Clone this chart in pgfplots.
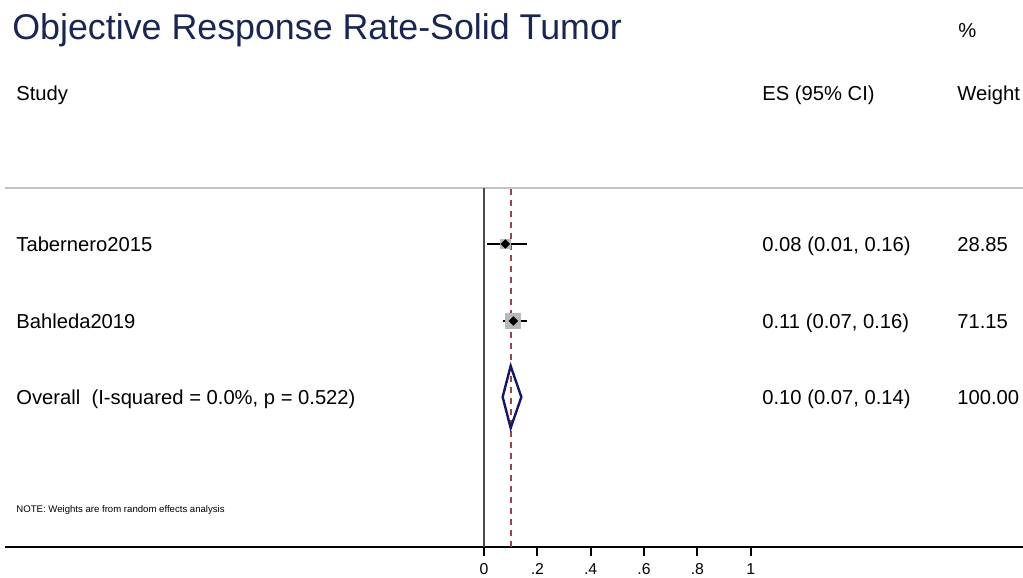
\documentclass[border=0pt]{standalone}
\usepackage{pgfplots}
\pgfplotsset{compat=1.18}
\usepackage{fontspec}
\setmainfont{Liberation Sans}
\definecolor{titlenavy}{RGB}{26,38,82}
\definecolor{dmaroon}{RGB}{150,68,80}
\definecolor{dnavy}{RGB}{22,22,100}
\definecolor{sqgray}{RGB}{185,185,185}
\definecolor{rulegray}{RGB}{195,195,195}
\begin{document}
\begin{tikzpicture}
\begin{axis}[
  scale only axis, width=511.5pt, height=289pt,
  xmin=-1.81477, xmax=2.02100, ymin=-31, ymax=547,
  axis x line*=middle, axis y line=none,
  x axis line style={draw=none},
  clip=false,
  /pgf/number format/assume math mode=true,
  xtick={0,0.2,0.4,0.6,0.8,1},
  xticklabels={{0},{.2},{.4},{.6},{.8},{1}},
  tick align=outside,
  major tick length=4.6pt,
  xtick style={draw=black, line width=0.9pt},
  xticklabel style={font=\fontsize{7.9}{9}\selectfont, inner sep=0pt, text height=5.7pt, text depth=0pt, anchor=north, yshift=-3.2pt},
  ytick=\empty,
]
% coordinate frame
\coordinate (BL) at (rel axis cs:0,0);
\coordinate (TR) at (rel axis cs:1,1);
% bottom axis line
\addplot[black, line width=0.8pt] coordinates {(-1.796,0) (2.021,0)};
% header rule
\addplot[rulegray, line width=1pt] coordinates {(-1.796,359) (2.021,359)};
% null line
\addplot[black!70, line width=0.8pt] coordinates {(0,0) (0,359)};
% overall effect dashed line
\addplot[dmaroon, line width=0.9pt, dash pattern=on 3pt off 2.5pt] coordinates {(0.10,0) (0.10,359)};
% weight squares
\addplot[only marks, mark=square*, mark size=2.4pt, sqgray, mark options={draw=sqgray, fill=sqgray}] coordinates {(0.08,303)};
\addplot[only marks, mark=square*, mark size=3.75pt, sqgray, mark options={draw=sqgray, fill=sqgray}] coordinates {(0.11,226)};
% CIs
\addplot[black, line width=1pt] coordinates {(0.01,303) (0.16,303)};
\addplot[black, line width=1pt] coordinates {(0.07,226) (0.16,226)};
% point estimates
\addplot[only marks, mark=square*, mark size=1.45pt, black, mark options={rotate=45}] coordinates {(0.08,303) (0.11,226)};
% overall diamond
\addplot[dnavy, line width=1.2pt] coordinates {(0.07,150) (0.10,181) (0.14,150) (0.10,119) (0.07,150)} -- cycle;
% texts
\node[anchor=base west, inner sep=0pt, text=titlenavy, font=\fontsize{17.9}{20}\selectfont] at (rel axis cs:{12/1023},{1-39.5/578}) {Objective Response Rate-Solid Tumor};
\begin{scope}[every node/.style={anchor=base west, inner sep=0pt, font=\fontsize{10.1}{12}\selectfont}]
\node at (rel axis cs:{958/1023},{1-38/578}) {\%};
\node at (rel axis cs:{16/1023},{1-101/578}) {Study};
\node at (rel axis cs:{762/1023},{1-101/578}) {ES (95\% CI)};
\node at (rel axis cs:{957/1023},{1-101/578}) {Weight};
\node at (rel axis cs:{16/1023},{1-252/578}) {Tabernero2015};
\node at (rel axis cs:{762/1023},{1-252/578}) {0.08 (0.01, 0.16)};
\node at (rel axis cs:{957/1023},{1-252/578}) {28.85};
\node at (rel axis cs:{16/1023},{1-328.5/578}) {Bahleda2019};
\node at (rel axis cs:{762/1023},{1-328.5/578}) {0.11 (0.07, 0.16)};
\node at (rel axis cs:{957/1023},{1-328.5/578}) {71.15};
\node at (rel axis cs:{16/1023},{1-404.5/578}) {Overall\ \ (I-squared = 0.0\%, p = 0.522)};
\node at (rel axis cs:{762/1023},{1-404.5/578}) {0.10 (0.07, 0.14)};
\node at (rel axis cs:{957/1023},{1-404.5/578}) {100.00};
\node[font=\fontsize{4.8}{6}\selectfont] at (rel axis cs:{16/1023},{1-512.5/578}) {NOTE: Weights are from random effects analysis};
\end{scope}
\end{axis}
\pgfresetboundingbox
\useasboundingbox (BL) rectangle (TR);
\end{tikzpicture}
\end{document}
